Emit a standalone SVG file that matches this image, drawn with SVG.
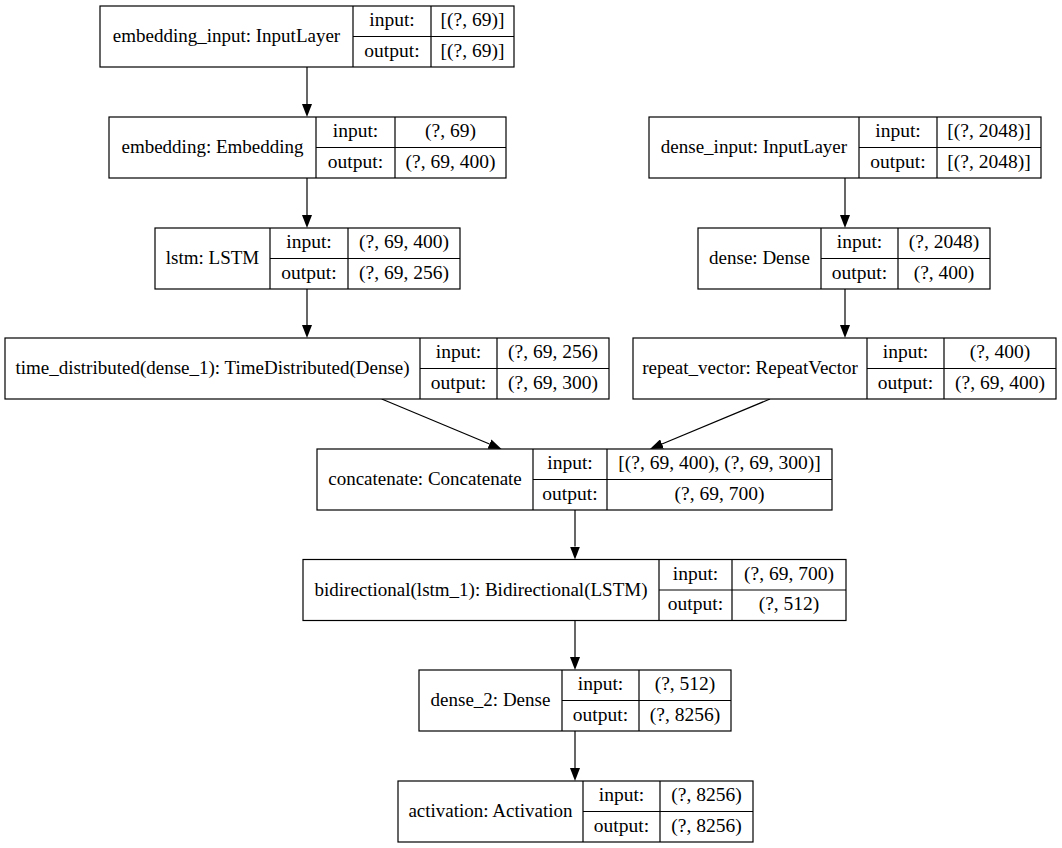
<svg xmlns="http://www.w3.org/2000/svg" width="1062" height="848" viewBox="0 0 1062 848">
<defs>
<style>
.box{fill:#fff;stroke:#000;stroke-width:1.2}
.sep{stroke:#000;stroke-width:1.2;fill:none}
text{font-family:"Liberation Serif","Times New Roman",serif;font-size:19.5px;fill:#000;text-anchor:middle}
text.lbl{font-size:19px}
.edge{stroke:#000;stroke-width:1.2;fill:none}
</style>
<marker id="ah" markerUnits="userSpaceOnUse" markerWidth="14" markerHeight="10" refX="0" refY="5" orient="auto">
<path d="M0,0 L13,5 L0,10 z" fill="#000"/>
</marker>
</defs>
<rect width="1062" height="848" fill="#fff"/>
<g id="connectors">
<line class="edge" x1="307" y1="67" x2="307" y2="104" marker-end="url(#ah)"/>
<line class="edge" x1="307" y1="178" x2="307" y2="215" marker-end="url(#ah)"/>
<line class="edge" x1="307" y1="289" x2="307" y2="325" marker-end="url(#ah)"/>
<line class="edge" x1="845" y1="178" x2="845" y2="215" marker-end="url(#ah)"/>
<line class="edge" x1="845" y1="289" x2="845" y2="325" marker-end="url(#ah)"/>
<line class="edge" x1="381.7" y1="399" x2="489.5" y2="444" marker-end="url(#ah)"/>
<line class="edge" x1="770" y1="399" x2="662" y2="444" marker-end="url(#ah)"/>
<line class="edge" x1="575" y1="510" x2="575" y2="546.5" marker-end="url(#ah)"/>
<line class="edge" x1="575" y1="620.5" x2="575" y2="657" marker-end="url(#ah)"/>
<line class="edge" x1="575" y1="731" x2="575" y2="768" marker-end="url(#ah)"/>
</g>
<g id="embedding_input">
<rect class="box" x="100" y="6" width="414" height="61"/>
<path class="sep" d="M353,6 V67 M431,6 V67 M353,36.5 H514"/>
<text class="lbl" x="226.5" y="42">embedding_input: InputLayer</text>
<text x="392" y="26">input:</text>
<text x="472.5" y="26">[(?, 69)]</text>
<text x="392" y="56.5">output:</text>
<text x="472.5" y="56.5">[(?, 69)]</text>
</g>
<g id="embedding">
<rect class="box" x="109" y="117" width="397" height="61"/>
<path class="sep" d="M316,117 V178 M395,117 V178 M316,147.5 H506"/>
<text class="lbl" x="212.5" y="153">embedding: Embedding</text>
<text x="355.5" y="137">input:</text>
<text x="450.5" y="137">(?, 69)</text>
<text x="355.5" y="167.5">output:</text>
<text x="450.5" y="167.5">(?, 69, 400)</text>
</g>
<g id="lstm">
<rect class="box" x="155" y="228" width="305" height="61"/>
<path class="sep" d="M270,228 V289 M348,228 V289 M270,258.5 H460"/>
<text class="lbl" x="212.5" y="264">lstm: LSTM</text>
<text x="309" y="248">input:</text>
<text x="404" y="248">(?, 69, 400)</text>
<text x="309" y="278.5">output:</text>
<text x="404" y="278.5">(?, 69, 256)</text>
</g>
<g id="time_distributed">
<rect class="box" x="5" y="338" width="604" height="61"/>
<path class="sep" d="M420,338 V399 M497,338 V399 M420,368.5 H609"/>
<text class="lbl" x="212.5" y="374">time_distributed(dense_1): TimeDistributed(Dense)</text>
<text x="458.5" y="358">input:</text>
<text x="553" y="358">(?, 69, 256)</text>
<text x="458.5" y="388.5">output:</text>
<text x="553" y="388.5">(?, 69, 300)</text>
</g>
<g id="dense_input">
<rect class="box" x="649" y="117" width="392" height="61"/>
<path class="sep" d="M859,117 V178 M937,117 V178 M859,147.5 H1041"/>
<text class="lbl" x="754" y="153">dense_input: InputLayer</text>
<text x="898" y="137">input:</text>
<text x="989" y="137">[(?, 2048)]</text>
<text x="898" y="167.5">output:</text>
<text x="989" y="167.5">[(?, 2048)]</text>
</g>
<g id="dense">
<rect class="box" x="698" y="228" width="292" height="61"/>
<path class="sep" d="M821,228 V289 M898,228 V289 M821,258.5 H990"/>
<text class="lbl" x="759.5" y="264">dense: Dense</text>
<text x="859.5" y="248">input:</text>
<text x="944" y="248">(?, 2048)</text>
<text x="859.5" y="278.5">output:</text>
<text x="944" y="278.5">(?, 400)</text>
</g>
<g id="repeat_vector">
<rect class="box" x="633" y="338" width="423" height="61"/>
<path class="sep" d="M867,338 V399 M944,338 V399 M867,368.5 H1056"/>
<text class="lbl" x="750" y="374">repeat_vector: RepeatVector</text>
<text x="905.5" y="358">input:</text>
<text x="1000" y="358">(?, 400)</text>
<text x="905.5" y="388.5">output:</text>
<text x="1000" y="388.5">(?, 69, 400)</text>
</g>
<g id="concatenate">
<rect class="box" x="317" y="449" width="515" height="61"/>
<path class="sep" d="M533,449 V510 M607,449 V510 M533,479.5 H832"/>
<text class="lbl" x="425" y="485">concatenate: Concatenate</text>
<text x="570" y="469">input:</text>
<text x="719.5" y="469">[(?, 69, 400), (?, 69, 300)]</text>
<text x="570" y="499.5">output:</text>
<text x="719.5" y="499.5">(?, 69, 700)</text>
</g>
<g id="bidirectional">
<rect class="box" x="303" y="559.5" width="543" height="61"/>
<path class="sep" d="M659,559.5 V620.5 M732,559.5 V620.5 M659,590 H846"/>
<text class="lbl" x="481" y="595.5">bidirectional(lstm_1): Bidirectional(LSTM)</text>
<text x="695.5" y="579.5">input:</text>
<text x="789" y="579.5">(?, 69, 700)</text>
<text x="695.5" y="610">output:</text>
<text x="789" y="610">(?, 512)</text>
</g>
<g id="dense_2">
<rect class="box" x="419" y="670" width="312" height="61"/>
<path class="sep" d="M562,670 V731 M639,670 V731 M562,700.5 H731"/>
<text class="lbl" x="490.5" y="706">dense_2: Dense</text>
<text x="600.5" y="690">input:</text>
<text x="685" y="690">(?, 512)</text>
<text x="600.5" y="720.5">output:</text>
<text x="685" y="720.5">(?, 8256)</text>
</g>
<g id="activation">
<rect class="box" x="398" y="781" width="355" height="61"/>
<path class="sep" d="M583,781 V842 M660,781 V842 M583,811.5 H753"/>
<text class="lbl" x="490.5" y="817">activation: Activation</text>
<text x="621.5" y="801">input:</text>
<text x="706.5" y="801">(?, 8256)</text>
<text x="621.5" y="831.5">output:</text>
<text x="706.5" y="831.5">(?, 8256)</text>
</g>
</svg>
